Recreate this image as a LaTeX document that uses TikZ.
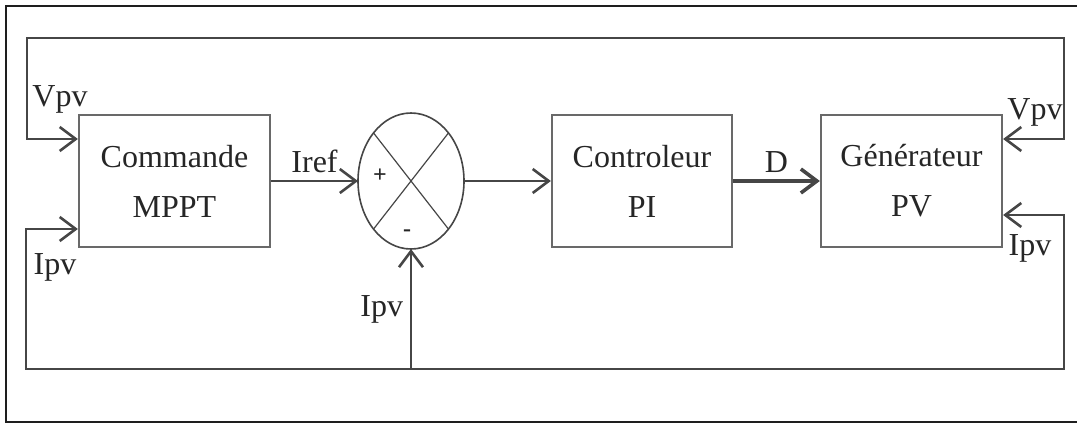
\documentclass[tikz,border=0pt]{standalone}
\usepackage{fontspec}
\setmainfont{Liberation Serif}
\usetikzlibrary{arrows.meta,positioning,shapes.geometric}
\definecolor{wiregray}{RGB}{70,70,70}
\definecolor{boxgray}{RGB}{105,105,105}
\definecolor{framegray}{RGB}{30,30,30}

\begin{document}
\begin{tikzpicture}[x=0.5pt,y=-0.5pt,
    every node/.style={font=\fontsize{16}{25}\selectfont,text=black!85},
    blockbox/.style={draw=boxgray,line width=1.1pt,minimum height=66pt,align=center},
    signbox/.style={font=\fontsize{12}{13}\selectfont\bfseries},
    wire/.style={draw=wiregray,line width=1.3pt,-{Straight Barb[length=8pt,width=12pt]}},
    >={Straight Barb[length=8pt,width=12pt]}]
  \useasboundingbox (0,0) rectangle (1077,424);
  \draw[framegray,line width=1.3pt] (1077,6) -| (6,422) -- (1077,422);

  \node[blockbox,minimum width=95.5pt] (mppt) at (174.5,181) {Commande\\MPPT};
  \node[draw=wiregray,line width=0.8pt,ellipse,minimum width=53pt,minimum height=68pt,
        inner sep=0pt,outer sep=0pt] (sum) at (411,181) {};
  \node[blockbox,minimum width=90pt] (pi) at (642,181) {Controleur\\PI};
  \node[blockbox,minimum width=90.5pt] (gpv) at (911.5,181) {Générateur\\PV};

  \draw[wiregray,line width=0.6pt] (sum.north west) -- (sum.south east)
                                   (sum.north east) -- (sum.south west);
  \node[signbox] (plus) at (380,176) {+};
  \node[signbox] (minus) at (407,233) {-};

  \coordinate (hautG) at (27,38);
  \coordinate (hautD) at (1064,38);
  \coordinate (basG) at (26,369);
  \coordinate (basD) at (1064,369);

  \draw[wire,<->] ([yshift=21pt]mppt.west) -| (hautG) -- (hautD) |- ([yshift=21pt]gpv.east);
  \draw[wire,<->] ([yshift=-24pt]mppt.west) -| (basG) -- (basD) |- ([yshift=-17pt]gpv.east);
  \draw[wire] (basG -| sum.south) -- (sum.south) node[midway,left] (lblIpvC) {Ipv};
  \draw[wire] (mppt.east) -- (sum.west) node[midway,above] (lblIref) {Iref};
  \draw[wire] (sum.east) -- (pi.west);
  \draw[wire,line width=1.8pt] (pi.east) -- (gpv.west) node[midway,above] (lblD) {D};

  \node (lblVpvG) at (60,99) {Vpv};
  \node (lblIpvG) at (55,267) {Ipv};
  \node (lblVpvD) at (1035,112) {Vpv};
  \node (lblIpvD) at (1030,248) {Ipv};
\end{tikzpicture}
\end{document}
